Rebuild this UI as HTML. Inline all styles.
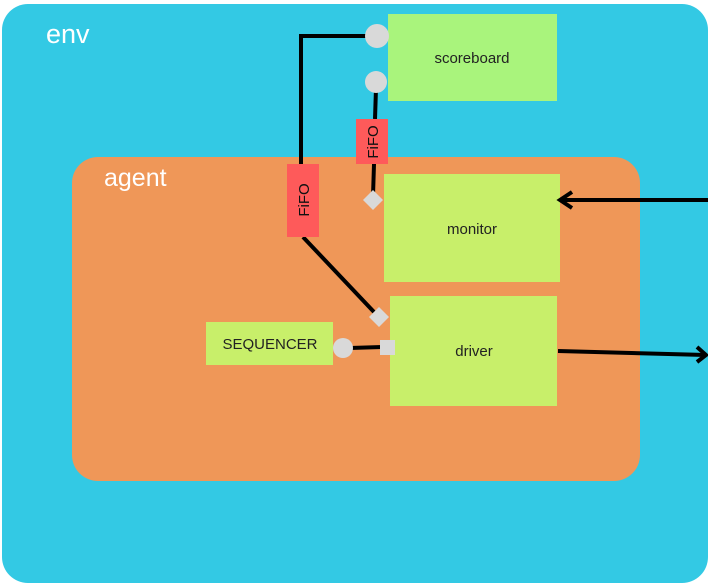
<!DOCTYPE html>
<html><head><meta charset="utf-8"><style>
html,body{margin:0;padding:0;background:#fff;width:708px;height:586px;overflow:hidden}
svg{display:block}
text{font-family:"Liberation Sans",sans-serif}
</style></head><body>
<svg width="708" height="586" viewBox="0 0 708 586" xmlns="http://www.w3.org/2000/svg">
<rect x="2" y="4" width="706" height="579" rx="26" fill="#33c9e4"/>
<text x="46" y="43" font-size="27" fill="#fff">env</text>
<rect x="72" y="157" width="568" height="324" rx="26" fill="#ef9758"/>
<text x="104" y="186" font-size="25" fill="#fff">agent</text>
<rect x="388" y="14" width="169" height="87" fill="#a9f47c"/>
<text x="472" y="63" font-size="15" fill="#222" text-anchor="middle">scoreboard</text>
<rect x="384" y="174" width="176" height="108" fill="#c8ef6a"/>
<text x="472" y="234" font-size="15" fill="#222" text-anchor="middle">monitor</text>
<rect x="390" y="296" width="167" height="110" fill="#c8ef6a"/>
<text x="474" y="356" font-size="15" fill="#222" text-anchor="middle">driver</text>
<rect x="206" y="322" width="127" height="43" fill="#c8ef6a"/>
<text x="270" y="349" font-size="15" fill="#222" text-anchor="middle">SEQUENCER</text>
<g stroke="#000" stroke-width="4" fill="none">
<polyline points="301,164 301,36 367,36"/>
<line x1="376" y1="88" x2="375" y2="119"/>
<line x1="374" y1="164" x2="373" y2="196"/>
<line x1="303" y1="237" x2="374" y2="312"/>
<line x1="350" y1="348" x2="382" y2="347"/>
<line x1="708" y1="200" x2="562" y2="200"/>
<polyline points="572,192 560,200 572,208"/>
<line x1="558" y1="351" x2="706" y2="355"/>
<polyline points="697,347 706,355 697,362"/>
</g>
<rect x="287" y="164" width="32" height="73" fill="#fe5a5a"/>
<text transform="translate(309,200) rotate(-90)" font-size="15" fill="#111" text-anchor="middle">FiFO</text>
<rect x="356" y="119" width="32" height="45" fill="#fe5a5a"/>
<text transform="translate(378,142) rotate(-90)" font-size="15" fill="#111" text-anchor="middle">FiFO</text>
<circle cx="377" cy="36" r="12" fill="#d9d9d9"/>
<circle cx="376" cy="82" r="11" fill="#d9d9d9"/>
<circle cx="343" cy="348" r="10" fill="#d9d9d9"/>
<rect x="380" y="340" width="15" height="15" fill="#d9d9d9"/>
<polygon points="373,190 383,200 373,210 363,200" fill="#d9d9d9"/>
<polygon points="379,307 389,317 379,327 369,317" fill="#d9d9d9"/>
</svg>
</body></html>
